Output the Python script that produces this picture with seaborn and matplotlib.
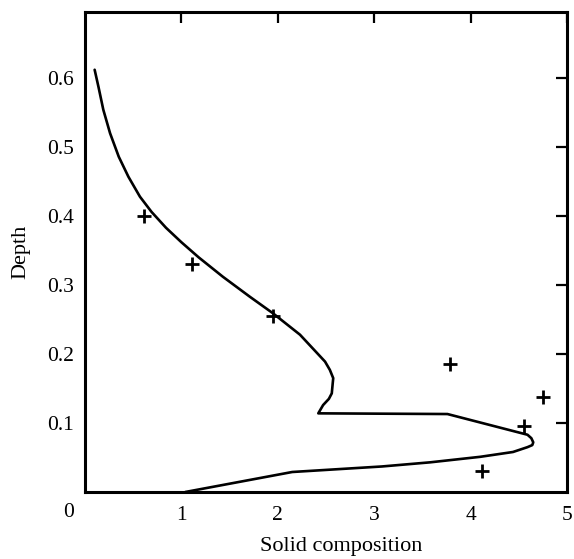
import matplotlib
matplotlib.use("Agg")
import matplotlib.pyplot as plt
import seaborn as sns
import pandas as pd

# Model curve (solid composition vs depth)
curve_x = [0.10, 0.14, 0.19, 0.26, 0.35, 0.45, 0.57, 0.69, 0.84, 1.00, 1.18, 1.43,
           1.71, 1.95, 2.23, 2.41, 2.49, 2.54, 2.575, 2.57, 2.56, 2.53, 2.47, 2.42,
           3.76, 4.59, 4.63, 4.65, 4.64, 4.59, 4.44, 4.10, 3.58, 3.08, 2.15, 1.04]
curve_y = [0.612, 0.587, 0.554, 0.520, 0.486, 0.457, 0.428, 0.406, 0.383, 0.362,
           0.340, 0.312, 0.283, 0.259, 0.228, 0.201, 0.189, 0.177, 0.165, 0.158,
           0.143, 0.135, 0.126, 0.114, 0.113, 0.083, 0.078, 0.072, 0.068, 0.065,
           0.058, 0.051, 0.043, 0.037, 0.029, 0.0]

# Observations
obs_x = [0.61, 1.11, 1.95, 3.79, 4.75, 4.55, 4.12]
obs_y = [0.400, 0.330, 0.255, 0.185, 0.138, 0.095, 0.030]

x_ticks = [1, 2, 3, 4, 5]
y_ticks = [0.1, 0.2, 0.3, 0.4, 0.5, 0.6]
y_tick_labels = ["0.1", "0.2", "0.3", "0.4", "0.5", "0.6"]

sns.set_theme(style="white")
plt.rcParams['font.family'] = ['Liberation Serif', 'DejaVu Serif']

fig = plt.figure(figsize=(5.74, 5.59), dpi=100)
ax = fig.add_axes([85/574, 1-492/559, (567-85)/574, (492-12)/559])

curve = pd.DataFrame({"x": curve_x, "y": curve_y})
sns.lineplot(data=curve, x="x", y="y", sort=False, estimator=None, color="black",
             linewidth=1.9, ax=ax)
obs = pd.DataFrame({"x": obs_x, "y": obs_y})
sns.scatterplot(data=obs, x="x", y="y", marker="+", s=90, linewidth=2.0,
                color="black", ax=ax)

ax.set_xlim(0, 5)
ax.set_ylim(0, 0.6957)
ax.set_xticks(x_ticks)
ax.set_xticklabels([str(t) for t in x_ticks])
ax.set_yticks(y_ticks)
ax.set_yticklabels(y_tick_labels)
ax.tick_params(direction="in", length=8, width=1.6, top=True, right=True,
               labelsize=15.5, colors="black", pad=8)
ax.tick_params(axis="x", pad=10)
for s in ax.spines.values():
    s.set_visible(True)
    s.set_color("black")
    s.set_linewidth(2.2)

ax.text(-0.17, -0.029, "0", transform=ax.transData, ha="center", va="center",
        fontsize=15.5, color="black")
ax.set_xlabel("Solid composition", fontsize=16, color="black")
ax.xaxis.set_label_coords(0.531, -0.093)
ax.set_ylabel("Depth", fontsize=16, color="black", labelpad=12)

fig.savefig("out.png", dpi=100, facecolor="white")
